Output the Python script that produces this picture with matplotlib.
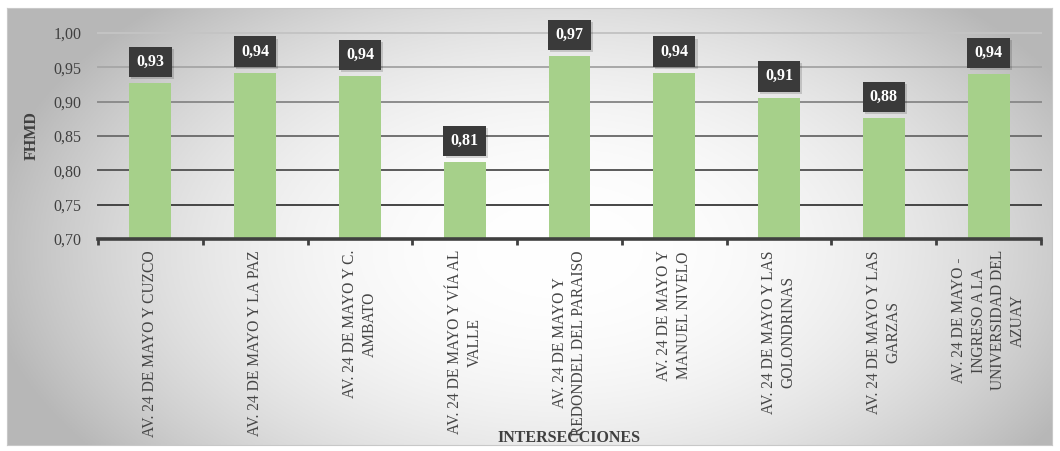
import numpy as np
import matplotlib
matplotlib.use("Agg")
import matplotlib.pyplot as plt
from matplotlib import patheffects

categories = [
    "AV. 24 DE MAYO Y CUZCO",
    "AV. 24 DE MAYO Y LA PAZ",
    "AV. 24 DE MAYO Y C.\nAMBATO",
    "AV. 24 DE MAYO Y VÍA AL\nVALLE",
    "AV. 24 DE MAYO Y\nREDONDEL DEL PARAISO",
    "AV. 24 DE MAYO Y\nMANUEL NIVELO",
    "AV. 24 DE MAYO Y LAS\nGOLONDRINAS",
    "AV. 24 DE MAYO Y LAS\nGARZAS",
    "AV. 24 DE MAYO -\nINGRESO A LA\nUNIVERSIDAD DEL\nAZUAY",
]
values = [0.927, 0.942, 0.937, 0.812, 0.966, 0.942, 0.906, 0.876, 0.940]
value_labels = ["0,93", "0,94", "0,94", "0,81", "0,97", "0,94", "0,91", "0,88", "0,94"]
yticks = [0.70, 0.75, 0.80, 0.85, 0.90, 0.95, 1.00]
ytick_labels = ["0,70", "0,75", "0,80", "0,85", "0,90", "0,95", "1,00"]

plt.rcParams['font.family'] = ['Liberation Serif', 'DejaVu Serif']

W, H = 1060, 451
fig = plt.figure(figsize=(W / 100, H / 100), dpi=100)
fig.patch.set_facecolor('white')

# background gradient panel
bx0, by0, bx1, by1 = 7, 8, 1052, 445
bg = fig.add_axes([bx0 / W, 1 - by1 / H, (bx1 - bx0) / W, (by1 - by0) / H], zorder=-10)
gx = np.linspace(bx0, bx1, 400)
gy = np.linspace(by0, by1, 200)
X, Y = np.meshgrid(gx, gy)
d = np.sqrt(((X - 560) / 560) ** 2 + ((Y - 250) / 330) ** 2)
g = 1.0 - 0.26 * np.clip(d, 0, 1.2) ** 2.2
g = np.clip(g, 0.72, 1.0)
bg.imshow(np.dstack([g, g, g]), aspect='auto', extent=[0, 1, 0, 1], origin='upper')
bg.set_xticks([]); bg.set_yticks([])
for s in bg.spines.values():
    s.set_color('#c8c8c8'); s.set_linewidth(0.8)

# main axes
ax0, ay0, ax1, ay1 = 98, 33, 1041, 239
ax = fig.add_axes([ax0 / W, 1 - ay1 / H, (ax1 - ax0) / W, (ay1 - ay0) / H])
ax.set_facecolor('none')
x = np.arange(len(categories))
ax.set_xlim(-0.5, len(categories) - 0.5)
ax.set_ylim(0.70, 1.00)

grid_colors = ['#454545', '#5a5a5a', '#717171', '#8c8c8c', '#a8a8a8', '#c4c4c4']
for yv, c in zip(yticks[1:], grid_colors):
    ax.axhline(yv, color=c, lw=1.4, zorder=1, clip_on=False)

ax.bar(x, values, width=0.4, bottom=0, color='#a6d08a', zorder=2)

for s in ['top', 'right', 'left']:
    ax.spines[s].set_visible(False)
ax.spines['bottom'].set_color('#404040')
ax.spines['bottom'].set_linewidth(2.6)
ax.spines['bottom'].set_zorder(3)

ax.set_yticks(yticks)
ax.set_yticklabels(ytick_labels, fontsize=11.5, color='#404040')
ax.tick_params(axis='y', length=0, pad=12)

ax.set_xticks(x)
ax.set_xticklabels(categories, rotation=90, fontsize=11.2, color='#454545',
                   va='top', ha='center', multialignment='center', linespacing=1.3)
ax.tick_params(axis='x', which='major', length=0, pad=8)
ax.set_xticks(np.arange(-0.5, len(categories)), minor=True)
ax.tick_params(axis='x', which='minor', length=4, width=2, color='#404040', direction='out')

ax.set_ylabel('FHMD', fontsize=11.5, fontweight='bold', color='#404040')
ax.yaxis.set_label_coords(-(98 - 40) / (ax1 - ax0), 0.5)

for xi, v, lbl in zip(x, values, value_labels):
    t = ax.annotate(lbl, (xi, v), xytext=(0, 9.5), textcoords='offset points',
                    ha='center', va='bottom', fontsize=11.5, fontweight='bold', color='white',
                    bbox=dict(boxstyle='square,pad=0.45', fc='#3a3a3a', ec='none'),
                    zorder=5, annotation_clip=False)
    t.get_bbox_patch().set_path_effects([
        patheffects.withSimplePatchShadow(offset=(1.5, -1.5), shadow_rgbFace='black', alpha=0.15),
        patheffects.Normal()])

fig.text(569 / W, 1 - 438 / H, 'INTERSECCIONES', ha='center', va='center',
         fontsize=11.5, fontweight='bold', color='#404040', zorder=10)

fig.savefig('out.png', dpi=100)
